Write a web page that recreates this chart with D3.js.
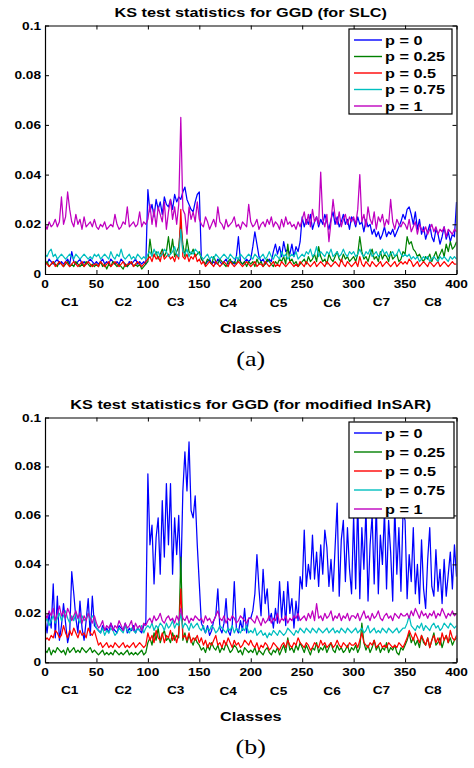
<!DOCTYPE html>
<html>
<head>
<meta charset="utf-8">
<script src="https://cdn.jsdelivr.net/npm/d3@7"></script>
<style>
  body { margin: 0; background: #fff; }
  svg text { font-family: "Liberation Sans", Arial, Helvetica, sans-serif; font-weight: bold; fill: #000; }
</style>
</head>
<body>
<svg id="chart" width="474" height="768"></svg>
<script>
// KS statistic values in thousandths (x 0.001), one value every 2 classes
const KS_UNIT = 0.001
const sampleClass = d3.range(0, 401, 2)

const seriesNames = ["p = 0", "p = 0.25", "p = 0.5", "p = 0.75", "p = 1"]
const seriesColors = ["#0000ff", "#008000", "#ff0000", "#00bfbf", "#bf00bf"]

const xTicks = [0, 50, 100, 150, 200, 250, 300, 350, 400]
const yTicks = [0, 0.02, 0.04, 0.06, 0.08, 0.1]
const yTickLabels = ["0", "0.02", "0.04", "0.06", "0.08", "0.1"]

const classNames = ["C1", "C2", "C3", "C4", "C5", "C6", "C7", "C8"]
const classCenters = [24, 76, 127, 178, 227, 279, 327, 377]

// (a) SLC
const slcP0 = [].concat(
  [5,4,6,5,4,5,6,4,5,4,5,6,4,9,5,4,5,6,4,5,4,5,6,5,4],
  [5,4,5,6,4,5,4,6,5,4,5,4,6,5,4,3,5,4,5,6,4,5,4,5,4],
  [34,25,28,23,30,26,29,24,31,28,27,30,26,32,29,31,30,33,35,30,28,26,25,29,32],
  [33,6,5,4,5,6,4,5,4,6,5,4,5,6,4,5,5,4,7,15,5,4,5,6,5],
  [6,11,17,12,7,5,6,4,5,6,5,9,12,8,11,7,13,9,10,8,12,7,11,9,13],
  [23,19,22,20,24,18,21,23,19,22,20,24,21,18,22,25,20,23,19,21,24,20,22,18,23],
  [22,19,23,20,21,17,22,19,20,16,18,15,17,14,16,19,15,17,16,18,15,17,19,21,24],
  [22,26,27,24,20,25,18,22,16,19,14,17,20,15,13,18,16,12,15,19,14,17,13,16,15],
  [29])
const slcP025 = [].concat(
  [4,5,3,4,5,4,3,5,4,3,4,5,3,4,3,5,4,3,4,3,5,4,3,4,3],
  [4,3,5,3,4,2,4,3,5,4,3,4,3,2,4,3,4,5,3,4,3,4,2,3,4],
  [5,14,8,7,9,6,8,10,7,9,15,8,14,7,9,11,20,12,7,14,9,8,10,7,8],
  [9,6,5,4,6,5,4,7,5,4,6,5,4,3,5,6,4,5,4,6,5,4,5,3,5],
  [4,5,3,6,4,5,3,4,6,5,4,3,5,4,6,5,7,4,12,5,6,4,5,3,4],
  [5,6,4,7,5,6,8,5,11,7,5,6,4,8,6,5,7,9,6,5,8,6,7,5,6],
  [7,5,8,15,9,6,7,5,8,10,6,7,5,9,6,8,7,5,9,6,7,8,5,6,9],
  [8,15,12,13,10,9,7,8,6,5,7,6,8,5,7,9,6,8,10,7,12,9,13,10,11],
  [13])
const slcP05 = [].concat(
  [5,4,3,4,5,3,4,5,4,3,5,4,3,4,5,4,3,4,5,3,4,5,4,3,4],
  [4,3,5,4,3,4,5,3,4,5,4,3,4,5,3,4,4,5,3,4,5,4,3,4,5],
  [6,7,5,8,6,7,5,9,6,7,8,6,7,5,8,6,26,7,6,8,5,7,6,8,5],
  [6,4,5,3,4,5,4,3,5,4,3,4,5,4,3,5,4,3,4,5,4,3,4,5,4],
  [3,4,5,3,4,4,3,5,4,3,4,5,3,4,3,5,4,3,4,5,4,3,4,3,5],
  [4,3,5,4,3,4,5,3,4,5,4,3,5,4,3,4,5,4,3,6,4,3,5,4,3],
  [4,5,3,7,4,3,5,4,3,5,4,3,4,5,3,4,5,4,3,4,5,3,4,5,4],
  [5,4,6,5,3,4,5,3,4,5,4,3,5,4,3,4,5,3,4,5,4,3,4,5,4],
  [4])
const slcP075 = [].concat(
  [8,7,9,10,7,8,6,7,8,7,6,7,8,7,6,8,7,6,7,8,7,6,7,6,8],
  [7,8,6,7,8,7,6,9,7,6,8,7,10,7,6,7,8,6,7,6,8,7,6,7,6],
  [8,9,7,10,8,9,7,8,10,9,7,8,9,11,8,7,18,9,8,10,7,9,8,10,9],
  [8,7,6,7,8,6,7,6,8,7,6,7,8,7,6,8,7,6,7,6,8,7,6,7,8],
  [7,6,8,7,6,7,8,6,7,9,7,6,8,7,6,9,7,8,6,7,8,7,9,6,7],
  [8,7,9,8,10,7,8,11,7,9,8,7,9,8,10,7,8,9,7,8,10,8,7,9,8],
  [9,7,8,10,8,7,9,8,10,7,8,9,7,8,10,8,9,7,8,9,7,8,10,8,7],
  [8,7,8,6,7,6,7,5,6,7,6,7,5,6,7,6,5,7,6,7,6,5,7,6,7],
  [6])
const slcP1 = [].concat(
  [20,18,21,19,20,22,19,21,31,20,23,33,26,21,19,24,20,22,18,23,19,20,21,19,22],
  [19,18,20,19,21,18,19,20,19,24,20,18,19,21,20,27,19,20,21,19,20,25,19,21,20],
  [22,28,20,26,19,27,24,21,29,18,25,30,22,27,20,28,63,26,24,16,27,22,25,21,29],
  [22,20,19,23,21,18,20,22,19,27,21,20,18,22,19,20,21,23,19,20,18,21,20,19,28],
  [21,19,20,22,18,20,21,19,22,20,23,19,21,20,18,22,19,23,20,21,19,20,18,21,19],
  [22,25,20,24,19,26,21,23,20,41,22,19,24,13,21,30,23,20,25,19,22,24,20,23,21],
  [23,20,26,40,21,24,19,27,22,20,25,18,23,21,24,19,22,20,30,21,18,22,20,19,21],
  [20,18,22,17,19,21,16,20,18,17,19,16,18,20,17,19,16,18,17,19,15,18,17,16,18],
  [17])

// (b) modified InSAR
const insP0 = [].concat(
  [18,12,20,14,32,10,27,9,15,24,16,8,12,37,28,18,12,25,14,9,17,26,11,27,15],
  [14,13,12,15,13,14,12,16,14,13,12,15,14,13,16,12,14,13,15,12,14,13,12,15,16],
  [77,48,56,32,51,59,36,66,43,73,48,73,36,59,44,60,33,70,86,70,90,62,59,68,48],
  [32,16,14,12,15,11,13,17,19,30,14,12,16,26,13,11,15,33,14,12,17,13,22,12,18],
  [18,21,28,44,30,19,38,24,30,17,20,14,22,16,33,18,29,15,33,20,26,14,25,17,35],
  [30,54,31,40,34,52,34,45,31,48,36,54,47,31,42,29,47,65,27,50,58,33,55,38,28],
  [60,30,66,26,55,38,63,25,48,60,32,65,28,52,40,62,30,58,45,25,64,36,55,29,61],
  [58,26,44,33,55,28,40,24,50,30,22,42,55,31,27,46,29,38,24,42,27,36,45,30,48],
  [35])
const insP025 = [].concat(
  [5,4,6,3,5,4,6,5,4,5,3,6,4,5,6,4,5,4,6,5,4,5,6,4,5],
  [4,3,4,5,3,4,3,4,3,5,4,3,4,3,4,5,3,4,3,4,3,4,5,3,4],
  [8,10,7,12,9,14,8,11,13,9,10,8,12,9,11,10,43,9,12,8,11,9,7,10,8],
  [7,5,6,4,7,5,8,6,5,7,4,6,5,8,6,4,5,7,6,4,5,3,6,5,4],
  [5,4,6,3,5,4,3,5,6,4,3,5,4,6,3,5,7,4,10,5,6,4,7,5,8],
  [6,4,7,5,3,6,5,8,4,6,5,7,4,6,8,5,4,7,5,6,4,5,7,4,6],
  [5,7,4,6,16,8,5,7,4,6,9,5,7,4,6,5,8,4,6,5,7,4,3,6,5],
  [7,9,12,8,10,7,9,6,11,8,7,10,6,9,12,7,8,10,6,9,11,8,10,7,9],
  [10])
const insP05 = [].concat(
  [9,10,9,11,10,13,12,10,11,15,12,10,13,11,14,12,10,13,11,12,10,14,12,11,13],
  [10,7,8,6,7,8,6,7,6,8,7,6,7,8,6,7,6,7,8,6,7,8,7,6,7],
  [12,9,11,8,13,10,9,12,8,11,10,13,9,11,8,12,30,10,11,9,12,8,10,9,11],
  [8,10,7,9,6,8,7,9,11,7,8,6,9,7,10,8,6,9,7,8,6,7,9,8,7],
  [9,7,6,8,5,7,6,8,7,5,6,8,7,6,5,7,8,6,9,7,6,8,7,10,8],
  [7,6,8,7,5,6,8,7,6,9,7,8,6,7,8,6,7,9,7,6,8,7,6,8,7],
  [7,8,6,9,12,8,7,6,8,7,9,6,7,8,6,7,6,8,7,6,7,6,8,7,6],
  [8,10,13,11,9,12,10,8,11,9,7,10,6,9,11,8,10,7,12,9,11,8,13,10,9],
  [11])
const insP075 = [].concat(
  [16,18,15,17,19,16,18,20,17,19,21,18,16,19,17,20,18,16,19,17,18,20,17,19,18],
  [14,13,12,14,11,13,12,14,13,11,12,14,13,12,15,13,12,14,13,12,14,13,15,12,14],
  [15,14,16,13,15,14,16,15,13,16,14,15,17,14,16,15,20,14,16,15,13,16,14,15,16],
  [14,13,15,12,14,13,15,14,12,13,15,14,13,12,14,13,15,12,14,13,12,14,13,15,12],
  [13,12,14,11,12,13,11,12,10,12,11,13,12,11,13,12,11,12,14,13,12,11,13,12,14],
  [13,12,14,13,12,14,13,12,14,13,12,13,14,12,13,14,12,13,12,14,13,12,14,13,12],
  [13,14,12,13,14,12,13,15,12,13,14,12,13,12,14,13,12,14,13,12,13,14,12,13,14],
  [14,16,19,15,14,13,15,14,16,13,15,14,13,15,16,14,15,13,14,16,15,14,16,15,14],
  [15])
const insP1 = [].concat(
  [20,18,21,19,22,17,20,23,19,21,18,22,20,17,19,21,18,20,16,19,17,20,18,16,19],
  [16,14,15,17,13,15,14,16,13,15,14,17,15,13,16,14,15,17,13,16,14,15,13,16,15],
  [17,18,16,19,17,18,20,17,16,18,19,17,18,16,19,17,22,18,17,19,16,18,17,19,18],
  [17,18,16,19,17,18,16,17,19,21,18,17,19,16,18,17,19,18,16,17,19,18,17,16,18],
  [18,17,16,19,17,15,18,16,17,19,16,18,17,20,16,18,17,19,16,18,17,19,18,20,17],
  [18,19,17,20,18,21,17,24,18,19,17,20,18,19,21,17,19,18,20,17,19,18,20,17,19],
  [19,18,20,17,19,21,18,19,17,20,18,19,21,18,17,19,20,18,19,17,20,19,18,20,19],
  [19,20,18,21,19,22,20,18,21,19,20,18,20,19,21,18,20,19,22,20,18,20,19,21,19],
  [20])

const panels = [
  { id: "a", title: "KS test statistics for GGD (for SLC)", tag: "(a)",
    series: [slcP0, slcP025, slcP05, slcP075, slcP1],
    top: 25.5, bottom: 274, legend: { x: 349, y: 29, w: 103, h: 85, row0: 40, step: 16.5 } },
  { id: "b", title: "KS test statistics for GGD (for modified InSAR)", tag: "(b)",
    series: [insP0, insP025, insP05, insP075, insP1],
    top: 417.5, bottom: 662.3, legend: { x: 349, y: 422, w: 105, h: 96, row0: 433, step: 19 } }
]

const left = 45, right = 456.5
const SX = 1.3   // the figure is stretched horizontally
const svg = d3.select("#chart")

function label(g, x, y, s, size, anchor, family) {
  const t = g.append("text")
    .attr("transform", "translate(" + x + "," + y + ") scale(" + SX + ",1)")
    .attr("text-anchor", anchor || "middle")
    .style("font-size", size + "px")
    .text(s)
  if (family) t.style("font-family", family).style("font-weight", "normal")
  return t
}

const x = d3.scaleLinear().domain([0, 400]).range([left, right])

panels.forEach((p) => {
  const y = d3.scaleLinear().domain([0, 0.1]).range([p.bottom, p.top])
  const g = svg.append("g").attr("class", "panel-" + p.id)

  g.append("clipPath").attr("id", "clip-" + p.id)
    .append("rect").attr("x", left).attr("y", p.top)
    .attr("width", right - left).attr("height", p.bottom - p.top)

  const line = d3.line()
    .x((d, i) => x(sampleClass[i]))
    .y((d) => y(d * KS_UNIT))

  const lines = g.append("g").attr("clip-path", "url(#clip-" + p.id + ")")
  p.series.forEach((vals, k) => {
    lines.append("path")
      .datum(vals)
      .attr("d", line)
      .attr("fill", "none")
      .attr("stroke", seriesColors[k])
      .attr("stroke-width", 1.25)
      .attr("stroke-linejoin", "round")
  })

  // axes with inward ticks on all four sides
  const tick = 4
  const axes = [
    [d3.axisBottom(x).tickValues(xTicks), "translate(0," + p.bottom + ")"],
    [d3.axisTop(x).tickValues(xTicks), "translate(0," + p.top + ")"],
    [d3.axisLeft(y).tickValues(yTicks), "translate(" + left + ",0)"],
    [d3.axisRight(y).tickValues(yTicks), "translate(" + right + ",0)"]
  ]
  axes.forEach(([ax, tr]) => {
    const a = g.append("g").attr("transform", tr)
      .call(ax.tickSizeInner(-tick).tickSizeOuter(0).tickFormat(""))
    a.select(".domain").attr("stroke", "#000").attr("stroke-width", 1.2)
    a.selectAll(".tick line").attr("stroke", "#000").attr("stroke-width", 1)
  })

  // tick labels
  xTicks.forEach((t) => label(g, x(t), p.bottom + 14, String(t), 10.5))
  yTicks.forEach((t, i) => label(g, left - 4, y(t) + 4, yTickLabels[i], 10.5, "end"))

  classNames.forEach((c, i) => {
    const dy = (i >= 3 && i <= 5) ? 1 : 0
    label(g, x(classCenters[i]), p.bottom + 32 + dy, c, 10.5)
  })

  label(g, (left + right) / 2, p.bottom + 59, "Classes", 12.5)
  label(g, (left + right) / 2, p.top - 9, p.title, 12.5)
  label(g, (left + right) / 2, p.bottom + 92, p.tag, 20, "middle", "'Liberation Serif', 'Times New Roman', serif")

  // legend
  const L = p.legend
  g.append("rect").attr("x", L.x).attr("y", L.y).attr("width", L.w).attr("height", L.h)
    .attr("fill", "#fff").attr("stroke", "#000").attr("stroke-width", 1.2)
  seriesNames.forEach((n, k) => {
    const ly = L.row0 + k * L.step
    g.append("line").attr("x1", L.x + 5).attr("x2", L.x + 33).attr("y1", ly).attr("y2", ly)
      .attr("stroke", seriesColors[k]).attr("stroke-width", 1.4)
    label(g, L.x + 36, ly + 4.5, n, 12.5, "start")
  })
})
</script>
</body>
</html>
